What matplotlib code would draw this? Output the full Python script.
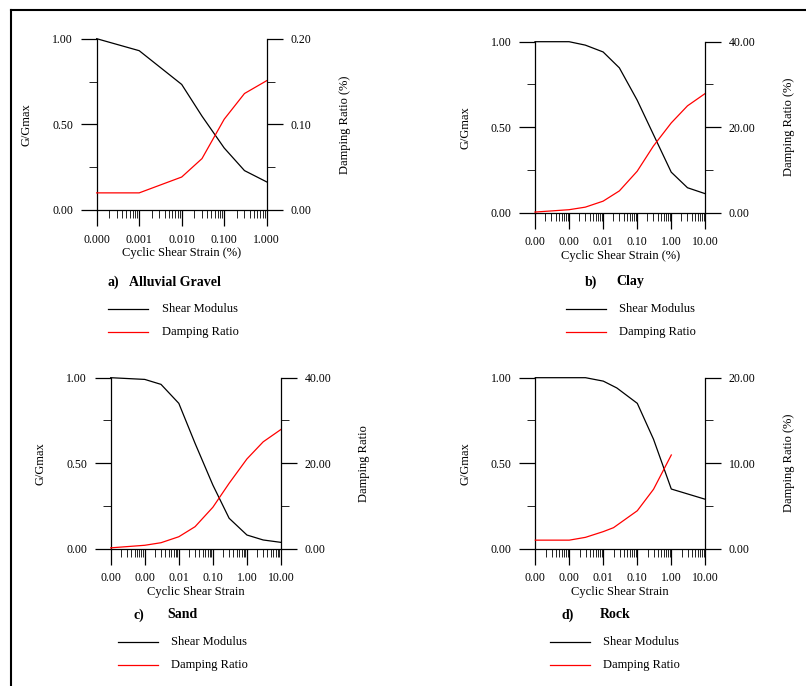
import matplotlib.pyplot as plt
from matplotlib.lines import Line2D
from matplotlib.ticker import FixedLocator, FormatStrFormatter, LogLocator, NullFormatter

W, H = 806, 686

# a) Alluvial Gravel
gravel_strain = [1e-4, 1e-3, 1e-2, 3e-2, 1e-1, 3e-1, 1.0]
gravel_g = [1.0, 0.93, 0.733, 0.548, 0.362, 0.23, 0.164]
gravel_d = [0.020, 0.020, 0.0385, 0.060, 0.106, 0.136, 0.151]

# b) Clay
clay_strain_g = [1e-4, 1e-3, 3e-3, 1e-2, 3e-2, 1e-1, 1.0, 3.0, 10.0]
clay_g = [1.0, 1.0, 0.98, 0.94, 0.847, 0.658, 0.237, 0.146, 0.111]
clay_strain_d = [1e-4, 1e-3, 3e-3, 1e-2, 3e-2, 1e-1, 3e-1, 1.0, 3.0, 10.0]
clay_d = [0.15, 0.7, 1.3, 2.7, 5.1, 9.7, 15.6, 21.0, 25.0, 27.9]

# c) Sand
sand_strain = [1e-4, 1e-3, 3e-3, 1e-2, 3e-2, 1e-1, 3e-1, 1.0, 3.0, 10.0]
sand_g = [1.0, 0.99, 0.961, 0.85, 0.616, 0.372, 0.178, 0.08, 0.051, 0.037]
sand_d = [0.2, 0.8, 1.4, 2.8, 5.15, 9.7, 15.3, 21.0, 25.0, 27.9]

# d) Rock
rock_strain_g = [1e-4, 1e-3, 3e-3, 1e-2, 2.5e-2, 1e-1, 3e-1, 1.0, 10.0]
rock_g = [1.0, 1.0, 1.0, 0.98, 0.94, 0.85, 0.64, 0.349, 0.289]
rock_strain_d = [1e-4, 1e-3, 3e-3, 1e-2, 2e-2, 1e-1, 3e-1, 1.0]
rock_d = [1.0, 1.0, 1.33, 2.0, 2.46, 4.44, 6.95, 10.96]

plt.rcParams['font.family'] = 'Liberation Serif'
plt.rcParams['font.size'] = 8.5

fig = plt.figure(figsize=(W / 100, H / 100), dpi=100)

# outer frame (cut off at right and bottom)
fig.add_artist(Line2D([11 / W, 1], [1 - 10 / H, 1 - 10 / H], color='black', lw=1.5))
fig.add_artist(Line2D([11 / W, 11 / W], [0, 1 - 10 / H], color='black', lw=1.5))


def panel(box, xs_g, g, xs_d, d, xmax, dmax, xfmt, dlabel, tag, name,
          ylab_x, dlab_x, name_x, leg_y):
    left, right, top, bottom = box
    ax = fig.add_axes([left / W, 1 - bottom / H, (right - left) / W, (bottom - top) / H])
    ax2 = ax.twinx()

    ax.plot(xs_g, g, color='black', lw=0.9, clip_on=False)
    ax2.plot(xs_d, d, color='red', lw=0.9, clip_on=False)

    ax.set_xscale('log')
    ax.set_xlim(1e-4, xmax)
    ax.set_ylim(0, 1)
    ax2.set_ylim(0, dmax)

    for a in (ax, ax2):
        a.spines['top'].set_visible(False)
        for s in a.spines.values():
            s.set_linewidth(0.9)
    ax.spines['right'].set_visible(False)
    ax2.spines['left'].set_visible(False)
    ax2.spines['bottom'].set_visible(False)

    ax.xaxis.set_major_locator(LogLocator(base=10, numticks=20))
    ax.xaxis.set_minor_locator(LogLocator(base=10, subs=range(2, 10), numticks=20))
    ax.xaxis.set_major_formatter(FormatStrFormatter(xfmt))
    ax.xaxis.set_minor_formatter(NullFormatter())

    ax.yaxis.set_major_locator(FixedLocator([0, 0.5, 1.0]))
    ax.yaxis.set_minor_locator(FixedLocator([0.25, 0.75]))
    ax.yaxis.set_major_formatter(FormatStrFormatter('%.2f'))
    ax2.yaxis.set_major_locator(FixedLocator([0, dmax / 2, dmax]))
    ax2.yaxis.set_minor_locator(FixedLocator([dmax / 4, 3 * dmax / 4]))
    ax2.yaxis.set_major_formatter(FormatStrFormatter('%.2f'))

    for a in (ax, ax2):
        a.tick_params(which='major', direction='out', length=11.5, width=0.9, pad=5.5, labelsize=8.5)
        a.tick_params(which='minor', direction='out', length=5.8, width=0.6)

    ax.set_xlabel(dlabel[0], fontsize=9, labelpad=1)
    wpx = right - left
    ax.text(ylab_x / wpx, 0.5, 'G/Gmax', transform=ax.transAxes, rotation=90,
            ha='center', va='center', fontsize=9)
    ax.text(1 + dlab_x / wpx, 0.5, dlabel[1], transform=ax.transAxes, rotation=90,
            ha='center', va='center', fontsize=9)

    # panel title
    fig.text(name_x[0] / W, 1 - (leg_y - 27) / H, tag, fontsize=10, fontweight='bold', va='center')
    fig.text(name_x[1] / W, 1 - (leg_y - 27) / H, name, fontsize=10, fontweight='bold', va='center')

    # legend
    lx0, lx1, tx = name_x[2], name_x[2] + 40, name_x[3]
    for k, (c, lab) in enumerate([('black', 'Shear Modulus'), ('red', 'Damping Ratio')]):
        yy = 1 - (leg_y + 23 * k) / H
        fig.add_artist(Line2D([lx0 / W, lx1 / W], [yy, yy], color=c, lw=0.9))
        fig.text(tx / W, yy, lab, fontsize=9, va='center')
    return ax


panel((96.7, 266.7, 38.7, 210.0), gravel_strain, gravel_g, gravel_strain, gravel_d,
      1.0, 0.2, '%.3f', ('Cyclic Shear Strain (%)', 'Damping Ratio (%)'), 'a)', 'Alluvial Gravel',
      -70, 78.5, (108, 129, 108, 162), 309)

panel((535.0, 705.3, 41.7, 212.7), clay_strain_g, clay_g, clay_strain_d, clay_d,
      10.0, 40.0, '%.2f', ('Cyclic Shear Strain (%)', 'Damping Ratio (%)'), 'b)', 'Clay',
      -69.5, 83.4, (585, 616, 565.7, 618.7), 309)

panel((110.7, 281.0, 377.7, 548.7), sand_strain, sand_g, sand_strain, sand_d,
      10.0, 40.0, '%.2f', ('Cyclic Shear Strain', 'Damping Ratio'), 'c)', 'Sand',
      -70.5, 83, (133, 167, 118, 171), 642)

panel((535.3, 705.3, 377.7, 548.7), rock_strain_g, rock_g, rock_strain_d, rock_d,
      10.0, 20.0, '%.2f', ('Cyclic Shear Strain', 'Damping Ratio (%)'), 'd)', 'Rock',
      -69.5, 83.4, (562, 599.7, 549.7, 603), 642)

fig.savefig('out.png', dpi=100)
